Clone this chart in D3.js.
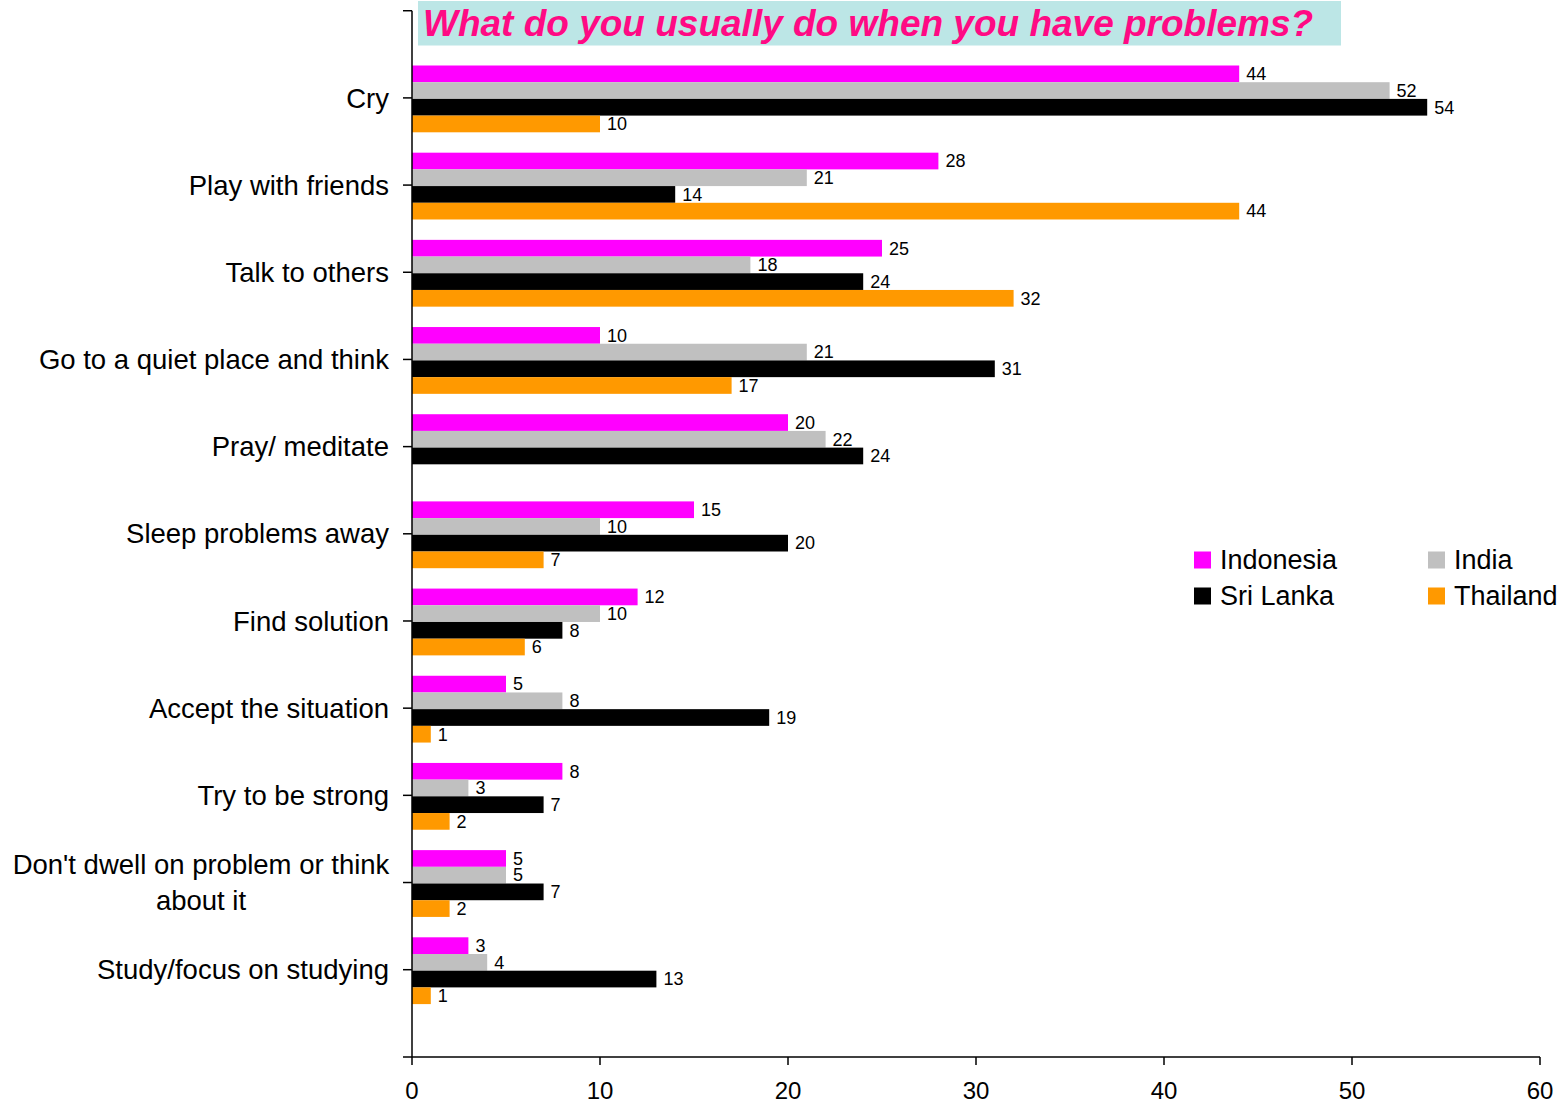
<!DOCTYPE html>
<html>
<head>
<meta charset="utf-8">
<script src="https://cdn.jsdelivr.net/npm/d3@7"></script>
<style>
  html, body { margin: 0; padding: 0; background: #ffffff; }
  svg { display: block; font-family: "Liberation Sans", Arial, sans-serif; }
</style>
</head>
<body>
<svg id="chart" width="1564" height="1103"></svg>
<script>
const title = "What do you usually do when you have problems?";
const categories = [
  "Cry",
  "Play with friends",
  "Talk to others",
  "Go to a quiet place and think",
  "Pray/ meditate",
  "Sleep problems away",
  "Find solution",
  "Accept the situation",
  "Try to be strong",
  "Don't dwell on problem or think\nabout it",
  "Study/focus on studying"
];
const seriesNames = ["Indonesia", "India", "Sri Lanka", "Thailand"];
const indonesia = [44, 28, 25, 10, 20, 15, 12, 5, 8, 5, 3];
const india     = [52, 21, 18, 21, 22, 10, 10, 8, 3, 5, 4];
const sriLanka  = [54, 14, 24, 31, 24, 20, 8, 19, 7, 7, 13];
const thailand  = [10, 44, 32, 17, null, 7, 6, 1, 2, 2, 1];
const xTicks = [0, 10, 20, 30, 40, 50, 60];

const seriesValues = [indonesia, india, sriLanka, thailand];
const colors = ["#FF00FF", "#C0C0C0", "#000000", "#FF9900"];

const svg = d3.select("#chart");

const x = d3.scaleLinear().domain([0, 60]).range([412, 1540]);
const y = d3.scalePoint().domain(categories).range([97.9, 969.7]);
const step = y.step();
const axisTop = y(categories[0]) - step;
const axisBottom = y(categories[categories.length - 1]) + step;
const barH = 16.7;
const sub = d3.scaleBand().domain(seriesNames).range([-2 * barH, 2 * barH]).padding(0);

// Title box
svg.append("rect")
  .attr("x", 418).attr("y", 1).attr("width", 923).attr("height", 44.5)
  .attr("fill", "#BCE6E6");
svg.append("text")
  .attr("x", 423).attr("y", 36)
  .attr("font-size", 37).attr("font-weight", "bold").attr("font-style", "italic")
  .attr("fill", "#FF0A84")
  .text(title);

// Bars
const rows = [];
categories.forEach((c, i) => {
  seriesNames.forEach((s, j) => {
    const v = seriesValues[j][i];
    if (v !== null && v !== undefined) rows.push({ c, s, v, color: colors[j] });
  });
});

const g = svg.append("g");
g.selectAll("rect.bar").data(rows).enter().append("rect")
  .attr("class", "bar")
  .attr("x", x(0))
  .attr("y", d => y(d.c) + 1 + sub(d.s))
  .attr("width", d => x(d.v) - x(0))
  .attr("height", sub.bandwidth())
  .attr("fill", d => d.color);

g.selectAll("text.val").data(rows).enter().append("text")
  .attr("class", "val")
  .attr("x", d => x(d.v) + 7)
  .attr("y", d => y(d.c) + 1 + sub(d.s) + sub.bandwidth() / 2)
  .attr("dy", "0.35em")
  .attr("font-size", 18)
  .attr("fill", "#000")
  .text(d => d.v);

// Y axis
const ax = svg.append("g").attr("stroke", "#000").attr("stroke-width", 1.5);
ax.append("line").attr("x1", x(0)).attr("x2", x(0)).attr("y1", axisTop).attr("y2", axisBottom);
ax.append("line").attr("x1", x(0) - 9).attr("x2", x(0)).attr("y1", axisTop).attr("y2", axisTop);
ax.selectAll("line.yt").data(categories).enter().append("line")
  .attr("class", "yt")
  .attr("x1", x(0) - 9).attr("x2", x(0))
  .attr("y1", d => y(d)).attr("y2", d => y(d));

// X axis
ax.append("line").attr("x1", x(0) - 9).attr("x2", x(60)).attr("y1", axisBottom).attr("y2", axisBottom);
ax.selectAll("line.xt").data(xTicks).enter().append("line")
  .attr("class", "xt")
  .attr("x1", d => x(d)).attr("x2", d => x(d))
  .attr("y1", axisBottom).attr("y2", axisBottom + 8);

svg.selectAll("text.xl").data(xTicks).enter().append("text")
  .attr("class", "xl")
  .attr("x", d => x(d)).attr("y", 1099)
  .attr("text-anchor", "middle")
  .attr("font-size", 24)
  .text(d => d);

// Category labels
categories.forEach(c => {
  const lines = c.split("\n");
  if (lines.length === 1) {
    svg.append("text")
      .attr("x", 389).attr("y", y(c))
      .attr("dy", "0.35em")
      .attr("text-anchor", "end")
      .attr("font-size", 27.5)
      .text(c);
  } else {
    const t = svg.append("text")
      .attr("text-anchor", "middle")
      .attr("font-size", 27.5);
    lines.forEach((ln, k) => {
      t.append("tspan")
        .attr("x", 201)
        .attr("y", y(c) + (k - (lines.length - 1) / 2) * 36)
        .attr("dy", "0.35em")
        .text(ln);
    });
  }
});

// Legend
const legendPos = [
  { sx: 1194, ty: 560 },
  { sx: 1428, ty: 560 },
  { sx: 1194, ty: 596 },
  { sx: 1428, ty: 596 }
];
const lg = svg.append("g");
seriesNames.forEach((s, j) => {
  const p = legendPos[j];
  lg.append("rect")
    .attr("x", p.sx).attr("y", p.ty - 8.5).attr("width", 17).attr("height", 17)
    .attr("fill", colors[j]);
  lg.append("text")
    .attr("x", p.sx + 26).attr("y", p.ty)
    .attr("dy", "0.35em")
    .attr("font-size", 27)
    .text(s);
});
</script>
</body>
</html>
